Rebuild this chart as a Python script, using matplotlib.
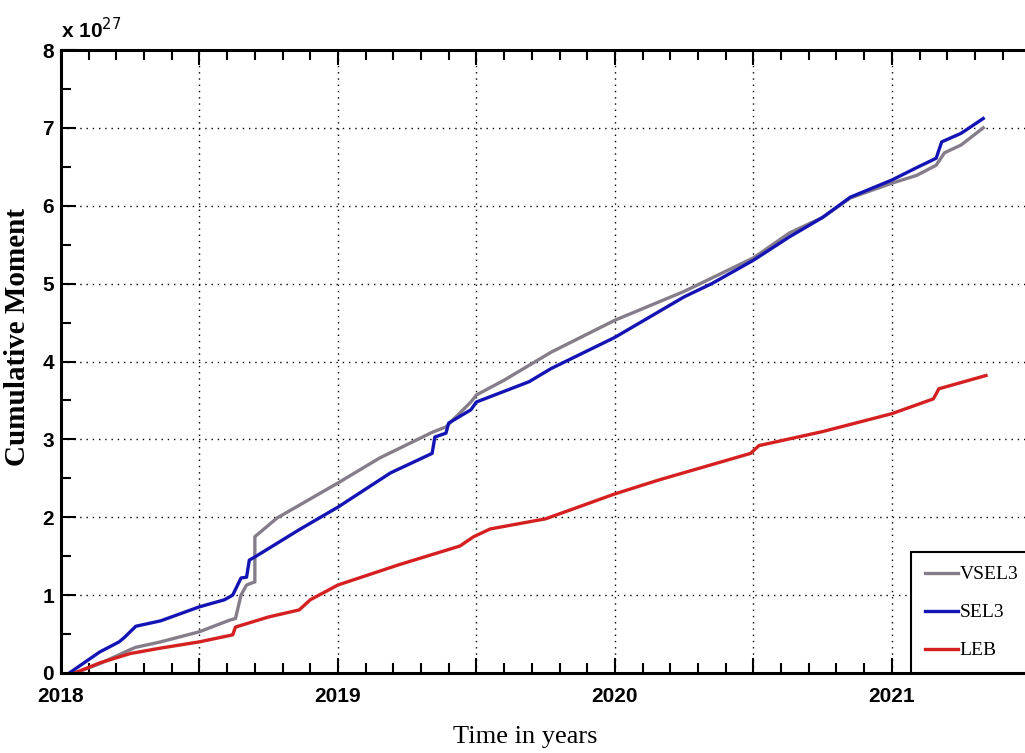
import numpy as np
import matplotlib
matplotlib.use("Agg")
import matplotlib.pyplot as plt
from matplotlib.ticker import MultipleLocator, FuncFormatter

# datos (momento en unidades de 1e27)
t_vsel3 = [2018.05, 2018.14, 2018.25, 2018.27, 2018.36, 2018.50, 2018.61, 2018.63,
           2018.65, 2018.67, 2018.70, 2018.70, 2018.78, 2019.00, 2019.15, 2019.34,
           2019.39, 2019.48, 2019.50, 2019.60, 2019.77, 2020.00, 2020.25, 2020.50,
           2020.63, 2020.75, 2020.85, 2021.00, 2021.09, 2021.16, 2021.19, 2021.25, 2021.33]
m_vsel3 = [0.00, 0.12, 0.30, 0.33, 0.40, 0.53, 0.68, 0.70,
           1.00, 1.13, 1.17, 1.75, 1.99, 2.44, 2.76, 3.09,
           3.16, 3.48, 3.57, 3.76, 4.12, 4.53, 4.90, 5.33,
           5.65, 5.85, 6.10, 6.29, 6.39, 6.52, 6.68, 6.78, 7.00]

t_sel3 = [2018.03, 2018.14, 2018.21, 2018.23, 2018.27, 2018.36, 2018.50, 2018.59,
          2018.62, 2018.65, 2018.67, 2018.68, 2018.70, 2018.86, 2019.00, 2019.19,
          2019.34, 2019.35, 2019.39, 2019.40, 2019.48, 2019.50, 2019.69, 2019.77,
          2020.00, 2020.25, 2020.35, 2020.50, 2020.63, 2020.75, 2020.85, 2021.00,
          2021.09, 2021.16, 2021.18, 2021.25, 2021.33]
m_sel3 = [0.00, 0.27, 0.40, 0.46, 0.60, 0.67, 0.85, 0.94,
          1.00, 1.22, 1.23, 1.45, 1.49, 1.84, 2.13, 2.57,
          2.82, 3.03, 3.08, 3.21, 3.38, 3.48, 3.74, 3.91,
          4.31, 4.83, 5.00, 5.30, 5.60, 5.85, 6.11, 6.33,
          6.49, 6.61, 6.82, 6.93, 7.12]

t_leb = [2018.05, 2018.14, 2018.25, 2018.36, 2018.50, 2018.62, 2018.63, 2018.75,
         2018.86, 2018.90, 2019.00, 2019.22, 2019.44, 2019.49, 2019.55, 2019.75,
         2020.00, 2020.16, 2020.49, 2020.52, 2020.75, 2021.00, 2021.15, 2021.17, 2021.34]
m_leb = [0.00, 0.13, 0.25, 0.32, 0.40, 0.49, 0.59, 0.72,
         0.81, 0.94, 1.13, 1.39, 1.63, 1.75, 1.85, 1.98,
         2.30, 2.48, 2.82, 2.92, 3.10, 3.33, 3.52, 3.65, 3.82]

sans = ['Liberation Sans', 'DejaVu Sans']
serif = ['Liberation Serif', 'DejaVu Serif']

fig = plt.figure(figsize=(10.25, 7.53), dpi=100)
W, H = 1025, 753
x0, x1, ytop, ybot = 61, 1058, 50, 673
ax = fig.add_axes([x0 / W, (H - ybot) / H, (x1 - x0) / W, (ybot - ytop) / H])

ax.plot(t_vsel3, m_vsel3, color='#857d8a', lw=2.4, label='VSEL3')
ax.plot(t_sel3, m_sel3, color='#1414b4', lw=2.4, label='SEL3')
ax.plot(t_leb, m_leb, color='#d42020', lw=2.4, label='LEB')

ax.set_xlim(2018, 2021.6)
ax.set_ylim(0, 8)

ax.xaxis.set_major_locator(MultipleLocator(0.5))
ax.xaxis.set_minor_locator(MultipleLocator(0.1))
ax.xaxis.set_major_formatter(FuncFormatter(lambda v, p: f'{int(round(v))}' if abs(v - round(v)) < 1e-6 else ''))
ax.yaxis.set_major_locator(MultipleLocator(1))
ax.yaxis.set_minor_locator(MultipleLocator(0.5))
ax.yaxis.set_major_formatter(FuncFormatter(lambda v, p: f'{int(round(v))}'))

ax.tick_params(which='both', direction='in', top=True, right=True, width=1.5)
ax.tick_params(which='major', length=11)
ax.tick_params(which='minor', length=7)
ax.tick_params(axis='x', pad=10)
ax.tick_params(axis='y', pad=5)
for lab in ax.get_xticklabels() + ax.get_yticklabels():
    lab.set_family(sans)
    lab.set_fontweight('bold')
    lab.set_fontsize(15)

for s in ax.spines.values():
    s.set_linewidth(2.2)

ax.grid(True, which='major', color='black', linestyle=(0, (1, 3.5)), linewidth=1.0)

ax.text(0.0, 1.012, r'x 10$^{27}$', transform=ax.transAxes, family=sans,
        fontweight='bold', fontsize=15, ha='left', va='bottom')

ax.set_ylabel('Cumulative Moment', family=serif, fontweight='bold', fontsize=21)
ax.yaxis.set_label_coords(-0.03, 0.54)
ax.set_xlabel('Time in years', family=serif, fontsize=19)
ax.xaxis.set_label_coords(0.466, -0.085)

leg = ax.legend(loc='lower left', bbox_to_anchor=(911 / W, (H - ybot) / H),
                bbox_transform=fig.transFigure, prop={'family': serif, 'size': 14},
                fancybox=False, edgecolor='black', framealpha=1, handlelength=1.7,
                handletextpad=0.1, borderpad=0.7, labelspacing=1.05, borderaxespad=0)
leg.get_frame().set_linewidth(1.5)

fig.savefig('out.png', dpi=100)
